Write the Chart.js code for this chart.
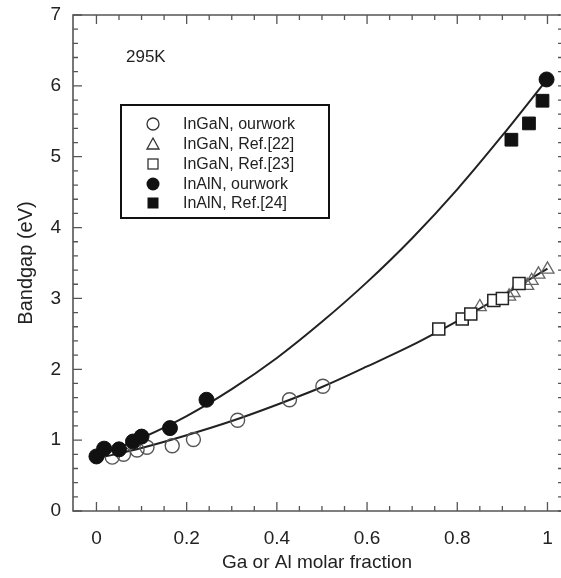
<!DOCTYPE html>
<html>
<head>
<meta charset="utf-8">
<script src="https://cdn.jsdelivr.net/npm/chart.js@4/dist/chart.umd.min.js"></script>
<style>
  html, body { margin: 0; padding: 0; background: #fff; }
  #wrap { position: relative; width: 561px; height: 578px; }
</style>
</head>
<body>
<div id="wrap"><canvas id="chart" width="561" height="578"></canvas></div>
<script>
// x = Ga or Al molar fraction, y = bandgap (eV)
const ingaOurX = [0.035, 0.06, 0.09, 0.112, 0.168, 0.215, 0.313, 0.428, 0.502];
const ingaOurY = [0.76, 0.80, 0.86, 0.90, 0.92, 1.01, 1.28, 1.57, 1.76];

const ingaRef22X = [0.85, 0.915, 0.925, 0.955, 0.965, 0.98, 1.0];
const ingaRef22Y = [2.88, 3.03, 3.08, 3.18, 3.25, 3.34, 3.41];

const ingaRef23X = [0.759, 0.811, 0.83, 0.881, 0.9, 0.937];
const ingaRef23Y = [2.57, 2.71, 2.78, 2.97, 3.0, 3.21];

const inalOurX = [0.0, 0.017, 0.05, 0.081, 0.10, 0.163, 0.244, 0.998];
const inalOurY = [0.77, 0.88, 0.87, 0.98, 1.05, 1.17, 1.57, 6.09];

const inalRef24X = [0.92, 0.959, 0.989];
const inalRef24Y = [5.24, 5.47, 5.79];

// fitted curves
const fitX = [0, 0.1, 0.2, 0.3, 0.4, 0.5, 0.6, 0.7, 0.8, 0.9, 1.0];
const ingaFitY = [0.74, 0.89, 1.07, 1.27, 1.50, 1.75, 2.04, 2.34, 2.68, 3.04, 3.42];
const inalFitY = [0.77, 1.03, 1.34, 1.72, 2.16, 2.67, 3.23, 3.85, 4.54, 5.30, 6.10];

const xTicks = [0, 0.2, 0.4, 0.6, 0.8, 1];
const xTickLabels = ['0', '0.2', '0.4', '0.6', '0.8', '1'];
const yTicks = [0, 1, 2, 3, 4, 5, 6, 7];

const legendLabels = ['InGaN, ourwork', 'InGaN, Ref.[22]', 'InGaN, Ref.[23]', 'InAlN, ourwork', 'InAlN, Ref.[24]'];

function pts(xs, ys) {
    return xs.map((x, i) => ({ x: x, y: ys[i] }));
}

const FONT = '"Liberation Sans", Arial, Helvetica, sans-serif';

// frame with inward ticks on all four sides
const framePlugin = {
    id: 'frame',
    beforeDatasetsDraw(chart) {
        const { ctx, chartArea: a, scales } = chart;
        const x = scales.x, y = scales.y;
        ctx.save();
        ctx.strokeStyle = '#555';
        ctx.lineWidth = 1.6;
        ctx.beginPath();
        ctx.moveTo(a.right - 1, a.top);
        ctx.lineTo(a.left, a.top);
        ctx.lineTo(a.left, a.bottom);
        ctx.lineTo(a.right, a.bottom);
        ctx.stroke();

        ctx.lineWidth = 1.3;
        ctx.beginPath();
        for (let i = 0; i <= 20; i++) {
            const v = i * 0.05;
            const px = x.getPixelForValue(v);
            const len = i % 4 === 0 ? 9 : 5;
            ctx.moveTo(px, a.bottom);
            ctx.lineTo(px, a.bottom - len);
            ctx.moveTo(px, a.top);
            ctx.lineTo(px, a.top + len);
        }
        for (let i = 0; i <= 35; i++) {
            const v = i * 0.2;
            const py = y.getPixelForValue(v);
            const len = i % 5 === 0 ? 9 : 5;
            ctx.moveTo(a.left, py);
            ctx.lineTo(a.left + len, py);
            ctx.moveTo(a.right, py);
            ctx.lineTo(a.right - 3, py);
        }
        ctx.stroke();
        ctx.restore();
    },
    afterDraw(chart) {
        const ctx = chart.ctx;
        ctx.save();
        // temperature label
        ctx.fillStyle = '#222';
        ctx.font = '17px ' + FONT;
        ctx.textBaseline = 'alphabetic';
        ctx.fillText('295K', 126, 62);

        // legend box
        ctx.strokeStyle = '#111';
        ctx.lineWidth = 2;
        ctx.fillStyle = '#fff';
        ctx.fillRect(121, 105, 208, 113);
        ctx.strokeRect(121, 105, 208, 113);

        const rowY = [124, 144, 164, 184, 203];
        const sx = 153;
        ctx.lineWidth = 1.3;
        ctx.strokeStyle = '#333';
        ctx.fillStyle = '#111';
        // open circle
        ctx.beginPath();
        ctx.arc(sx, rowY[0], 6, 0, Math.PI * 2);
        ctx.stroke();
        // open triangle
        ctx.beginPath();
        ctx.moveTo(sx, rowY[1] - 6);
        ctx.lineTo(sx + 6, rowY[1] + 5);
        ctx.lineTo(sx - 6, rowY[1] + 5);
        ctx.closePath();
        ctx.stroke();
        // open square
        ctx.strokeRect(sx - 5, rowY[2] - 5, 10, 10);
        // filled circle
        ctx.beginPath();
        ctx.arc(sx, rowY[3], 6.5, 0, Math.PI * 2);
        ctx.fill();
        // filled square
        ctx.fillRect(sx - 5.5, rowY[4] - 5.5, 11, 11);

        ctx.fillStyle = '#222';
        ctx.font = '16px ' + FONT;
        ctx.textBaseline = 'middle';
        legendLabels.forEach((t, i) => ctx.fillText(t, 183, rowY[i] + 1));
        ctx.restore();
    }
};

const ctx = document.getElementById('chart');
new Chart(ctx, {
    type: 'scatter',
    data: {
        datasets: [
            {
                label: legendLabels[3],
                data: pts(inalOurX, inalOurY),
                pointStyle: 'circle',
                pointRadius: 7.5,
                backgroundColor: '#111',
                borderColor: '#111',
                borderWidth: 1
            },
            {
                label: legendLabels[4],
                data: pts(inalRef24X, inalRef24Y),
                pointStyle: 'rect',
                pointRadius: 9,
                backgroundColor: '#111',
                borderColor: '#111',
                borderWidth: 1
            },
            {
                label: legendLabels[2],
                data: pts(ingaRef23X, ingaRef23Y),
                pointStyle: 'rect',
                pointRadius: 8.5,
                backgroundColor: '#fff',
                borderColor: '#222',
                borderWidth: 1.5
            },
            {
                label: legendLabels[1],
                data: pts(ingaRef22X, ingaRef22Y),
                pointStyle: 'triangle',
                pointRadius: 7.5,
                backgroundColor: 'rgba(0,0,0,0)',
                borderColor: '#666',
                borderWidth: 1.3
            },
            {
                label: legendLabels[0],
                data: pts(ingaOurX, ingaOurY),
                pointStyle: 'circle',
                pointRadius: 7,
                backgroundColor: 'rgba(0,0,0,0)',
                borderColor: '#555',
                borderWidth: 1.4
            },
            {
                label: 'InGaN fit',
                data: pts(fitX, ingaFitY),
                showLine: true,
                pointRadius: 0,
                borderColor: '#222',
                borderWidth: 2,
                cubicInterpolationMode: 'monotone'
            },
            {
                label: 'InAlN fit',
                data: pts(fitX, inalFitY),
                showLine: true,
                pointRadius: 0,
                borderColor: '#222',
                borderWidth: 2,
                cubicInterpolationMode: 'monotone'
            }
        ]
    },
    options: {
        responsive: false,
        animation: false,
        layout: { autoPadding: false, padding: { top: 15, right: 0, left: 0, bottom: 0 } },
        plugins: {
            legend: { display: false },
            tooltip: { enabled: false }
        },
        scales: {
            x: {
                type: 'linear',
                min: -0.052,
                max: 1.03,
                grid: { display: false, drawTicks: false },
                border: { display: false },
                afterBuildTicks: s => { s.ticks = xTicks.map(v => ({ value: v })); },
                afterFit: s => { s.height = 67; s.paddingLeft = 0; s.paddingRight = 0; },
                ticks: {
                    padding: 16,
                    color: '#222',
                    font: { family: FONT, size: 19 },
                    callback: (v) => xTickLabels[xTicks.indexOf(v)]
                },
                title: {
                    display: true,
                    text: 'Ga or Al molar fraction',
                    color: '#222',
                    font: { family: FONT, size: 19 },
                    padding: { top: 4, bottom: 4 }
                }
            },
            y: {
                type: 'linear',
                min: 0,
                max: 7,
                grid: { display: false, drawTicks: false },
                border: { display: false },
                afterBuildTicks: s => { s.ticks = yTicks.map(v => ({ value: v })); },
                afterFit: s => { s.width = 73; s.paddingTop = 0; s.paddingBottom = 0; },
                ticks: {
                    padding: 12,
                    color: '#222',
                    font: { family: FONT, size: 19 }
                },
                title: {
                    display: true,
                    text: 'Bandgap (eV)',
                    color: '#222',
                    font: { family: FONT, size: 20 },
                    padding: { top: 14, bottom: 0 }
                }
            }
        }
    },
    plugins: [framePlugin]
});
</script>
</body>
</html>
